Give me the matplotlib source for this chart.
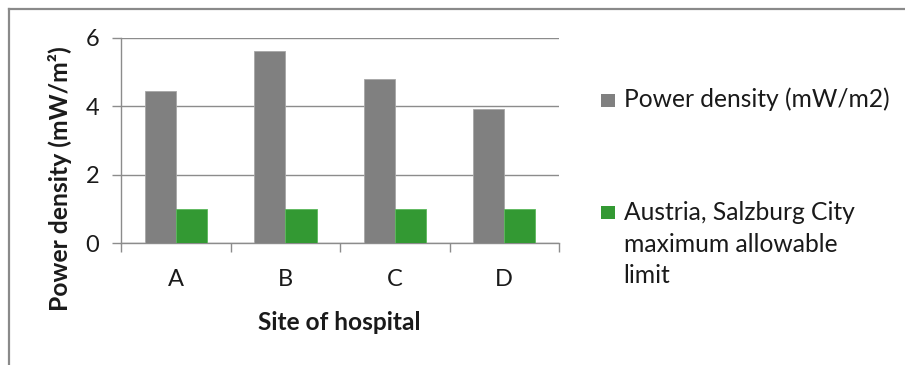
import matplotlib
matplotlib.use("Agg")
import matplotlib.pyplot as plt
from matplotlib.patches import Rectangle
from matplotlib.lines import Line2D
import numpy as np

plt.rcParams["font.family"] = ["Lato", "DejaVu Sans"]

# Data
sites = ["A", "B", "C", "D"]
power_density = [4.45, 5.62, 4.79, 3.91]
salzburg_limit = [1.0, 1.0, 1.0, 1.0]
series_names = ["Power density (mW/m2)",
                "Austria, Salzburg City\nmaximum allowable\nlimit"]
yticks = [0, 2, 4, 6]

GRAY = "#808080"
GREEN = "#339933"
GRID = "#8c8c8c"
TEXT = "#1a1a1a"

W, H = 905, 365
fig = plt.figure(figsize=(W / 100, H / 100), dpi=100)

def fx(px):
    return px / W

def fy(py):
    return 1 - py / H

left, right, top, bottom = 121.3, 559.0, 37.5, 243.3
ax = fig.add_axes([fx(left), fy(bottom), fx(right - left), (bottom - top) / H])

x = np.arange(len(sites))
bw = 0.285
ax.bar(x - bw / 2, power_density, width=bw, color=GRAY, edgecolor="#a6a6a6",
       linewidth=0.6, zorder=3)
ax.bar(x + bw / 2, salzburg_limit, width=bw, color=GREEN, edgecolor="#5cb85c",
       linewidth=0.6, zorder=3)

ax.set_xlim(-0.5, len(sites) - 0.5)
ax.set_ylim(0, 6)
ax.set_yticks(yticks)
ax.set_yticklabels([str(v) for v in yticks])
ax.yaxis.grid(True, color=GRID, linewidth=1.0, zorder=0)
ax.set_axisbelow(True)

# category boundary ticks, labels centred between them
ax.set_xticks(np.arange(-0.5, len(sites), 1.0))
ax.set_xticklabels([])
ax.set_xticks(x, minor=True)
ax.set_xticklabels(sites, minor=True)
ax.tick_params(axis="x", which="major", length=6.8, width=1.0, color=GRID,
               direction="out")
ax.tick_params(axis="x", which="minor", length=0, pad=18.5, labelsize=17,
               labelcolor=TEXT)
ax.tick_params(axis="y", length=6.8, width=1.0, color=GRID, pad=9.0,
               labelsize=17, labelcolor=TEXT)

for s in ["top", "right"]:
    ax.spines[s].set_visible(False)
for s in ["left", "bottom"]:
    ax.spines[s].set_color(GRID)
    ax.spines[s].set_linewidth(1.0)

ax.set_xlabel("Site of hospital", fontsize=17.5, fontweight="bold",
              color=TEXT)
ax.set_ylabel("Power density (mW/m²)", fontsize=19, fontweight="bold",
              color=TEXT)

# legend
lx_box, lx_text = 601, 623.5
fs_leg = 17.5
fig.add_artist(Rectangle((fx(lx_box), fy(107)), fx(14), 13 / H,
                         transform=fig.transFigure, color=GRAY, lw=0))
leg_first = fig.text(fx(lx_text), fy(107.3), series_names[0], fontsize=fs_leg,
                     color=TEXT, va="baseline", ha="left")
fig.add_artist(Rectangle((fx(lx_box), fy(219)), fx(14), 13 / H,
                         transform=fig.transFigure, color=GREEN, lw=0))
leg_lines = [leg_first]
for i, line in enumerate(series_names[1].split("\n")):
    leg_lines.append(fig.text(fx(lx_text), fy(220 + 31.5 * i), line,
                              fontsize=fs_leg, color=TEXT, va="baseline",
                              ha="left"))

# chart frame (top and left edges)
fig.add_artist(Line2D([fx(8.5), 1.0], [fy(8.5), fy(8.5)],
                      transform=fig.transFigure, color="#8a8a8a", lw=1.6))
fig.add_artist(Line2D([fx(8.5), fx(8.5)], [fy(8.5), 0.0],
                      transform=fig.transFigure, color="#8a8a8a", lw=1.6))


def place_label(label, cx, cy, length=None, vertical=False):
    """Size a label to a given extent and centre it on (cx, cy) in pixels
    measured from the top-left corner."""
    renderer = fig.canvas.get_renderer()
    if length is not None:
        bb = label.get_window_extent(renderer)
        cur = bb.height if vertical else bb.width
        label.set_fontsize(label.get_fontsize() * length / cur)
    for _ in range(3):
        bb = label.get_window_extent(renderer)
        dx = cx - (bb.x0 + bb.x1) / 2
        dy = (H - cy) - (bb.y0 + bb.y1) / 2
        px, py = ax.transAxes.transform(label.get_position())
        nx, ny = ax.transAxes.inverted().transform((px + dx, py + dy))
        label.set_position((nx, ny))


fig.canvas.draw()
ax.yaxis.set_label_coords(-0.1, 0.3)
ax.xaxis.set_label_coords(0.5, -0.3)
fig.canvas.draw()
place_label(ax.yaxis.label, 60.0, 179.0, length=266.0, vertical=True)
place_label(ax.xaxis.label, 339.0, 322.0, length=162.0)

# legend text sized so the first entry spans its column
renderer = fig.canvas.get_renderer()
bb = leg_first.get_window_extent(renderer)
scale = 265.0 / bb.width
for t in leg_lines:
    t.set_fontsize(t.get_fontsize() * scale)

fig.savefig("out.png", dpi=100, facecolor="white")
